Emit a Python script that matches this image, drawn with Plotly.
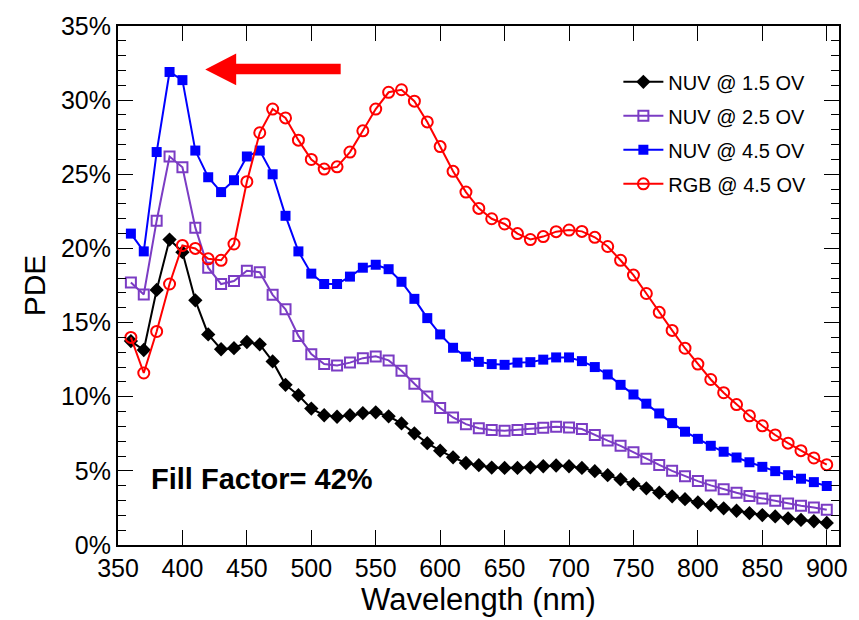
import plotly.graph_objects as go

wavelength = [360, 370, 380, 390, 400, 410, 420, 430, 440, 450,
              460, 470, 480, 490, 500, 510, 520, 530, 540, 550,
              560, 570, 580, 590, 600, 610, 620, 630, 640, 650,
              660, 670, 680, 690, 700, 710, 720, 730, 740, 750,
              760, 770, 780, 790, 800, 810, 820, 830, 840, 850,
              860, 870, 880, 890, 900]

nuv_15 = [13.75, 13.15, 17.2, 20.6, 19.75, 16.5, 14.2, 13.2, 13.27, 13.69,
          13.53, 12.38, 10.8, 10.1, 9.2, 8.75, 8.65, 8.75, 8.9, 8.95,
          8.68, 8.2, 7.53, 6.87, 6.36, 5.91, 5.53, 5.38, 5.22, 5.2,
          5.2, 5.24, 5.31, 5.36, 5.31, 5.2, 4.98, 4.71, 4.42, 4.11,
          3.82, 3.53, 3.28, 3.09, 2.87, 2.69, 2.47, 2.31, 2.15, 2.02,
          1.93, 1.8, 1.69, 1.6, 1.49]

nuv_25 = [17.7, 16.9, 21.87, 26.2, 25.47, 21.4, 18.7, 17.6, 17.8, 18.5,
          18.4, 16.87, 15.9, 14.1, 12.87, 12.2, 12.1, 12.3, 12.6, 12.72,
          12.45, 11.75, 10.87, 10.02, 9.24, 8.6, 8.15, 7.87, 7.76, 7.71,
          7.76, 7.82, 7.91, 7.98, 7.93, 7.82, 7.42, 7.04, 6.69, 6.25,
          5.81, 5.4, 5.0, 4.64, 4.31, 4.02, 3.76, 3.53, 3.31, 3.13,
          2.98, 2.8, 2.64, 2.53, 2.38]

nuv_45 = [21.0, 19.8, 26.5, 31.9, 31.35, 26.6, 24.8, 23.8, 24.6, 26.2,
          26.6, 25.0, 22.2, 19.8, 18.3, 17.6, 17.6, 18.1, 18.7, 18.9,
          18.6, 17.75, 16.6, 15.3, 14.2, 13.3, 12.7, 12.35, 12.2, 12.15,
          12.3, 12.33, 12.5, 12.65, 12.65, 12.4, 12.0, 11.5, 10.8, 10.15,
          9.53, 8.87, 8.22, 7.64, 7.16, 6.69, 6.29, 5.9, 5.58, 5.27,
          4.98, 4.71, 4.47, 4.24, 3.98]

rgb_45 = [14.0, 11.6, 14.4, 17.6, 20.2, 20.0, 19.3, 19.2, 20.3, 24.5,
          27.8, 29.4, 28.8, 27.3, 26.0, 25.35, 25.5, 26.5, 27.93, 29.4,
          30.53, 30.7, 29.93, 28.53, 26.87, 25.2, 23.8, 22.7, 22.0, 21.65,
          21.0, 20.6, 20.8, 21.13, 21.24, 21.15, 20.75, 20.13, 19.2, 18.2,
          16.96, 15.69, 14.47, 13.27, 12.2, 11.16, 10.27, 9.47, 8.71, 8.04,
          7.42, 6.87, 6.36, 5.87, 5.42]

series_names = ["NUV @ 1.5 OV", "NUV @ 2.5 OV", "NUV @ 4.5 OV", "RGB @ 4.5 OV"]
x_ticks = [350, 400, 450, 500, 550, 600, 650, 700, 750, 800, 850, 900]
y_ticks = [0, 5, 10, 15, 20, 25, 30, 35]
y_ticktext = ["0%", "5%", "10%", "15%", "20%", "25%", "30%", "35%"]

FONT = "Liberation Sans, Arial, Helvetica, sans-serif"
PURPLE = "#7B3CC4"

styles = [
    dict(color="#000000", symbol="diamond", size=11, fill=True),
    dict(color=PURPLE, symbol="square-open", size=10, fill=False),
    dict(color="#0000FF", symbol="square", size=10, fill=True),
    dict(color="#FF0000", symbol="circle-open", size=11, fill=False),
]

fig = go.Figure()
for name, ys, st in zip(series_names, [nuv_15, nuv_25, nuv_45, rgb_45], styles):
    fig.add_trace(go.Scatter(
        x=wavelength, y=ys, name=name, mode="lines+markers",
        legendgroup=name,
        line=dict(color=st["color"], width=2),
        marker=dict(symbol=st["symbol"], size=st["size"], color=st["color"],
                    line=dict(color=st["color"], width=2 if not st["fill"] else 0)),
    ))

# red arrow (decoration), in data coordinates
arrow_path = ("M 417.7 32.07 L 441.7 33.15 L 441.7 32.45 L 522.8 32.45 "
              "L 522.8 31.75 L 441.7 31.75 L 441.7 31.0 Z")
fig.add_shape(type="path", path=arrow_path, xref="x", yref="y",
              fillcolor="#FF0000", line=dict(width=0))

fig.add_annotation(x=461.8, y=4.47, xref="x", yref="y", text="<b>Fill Factor= 42%</b>",
                   showarrow=False, font=dict(family=FONT, size=29, color="#000000"))

axis_common = dict(
    showline=True, linecolor="#000000", linewidth=2, mirror="allticks",
    ticks="inside", tickcolor="#000000", tickwidth=1, ticklen=15,
    showgrid=False, zeroline=False,
    tickfont=dict(family=FONT, size=25, color="#000000"),
)

fig.update_xaxes(range=[350, 909.5], tickvals=x_ticks,
                 title=dict(text="Wavelength (nm)", font=dict(family=FONT, size=31, color="#000000"),
                            standoff=1),
                 **axis_common)
fig.update_yaxes(range=[0, 35], tickvals=y_ticks, ticktext=y_ticktext,
                 minor=dict(dtick=1, ticks="inside", ticklen=8, tickcolor="#000000", tickwidth=1),
                 title=dict(text="PDE", font=dict(family=FONT, size=30, color="#000000"),
                            standoff=6),
                 **axis_common)

fig.update_layout(
    width=859, height=620,
    margin=dict(l=118, r=12, t=19, b=75),
    paper_bgcolor="#FFFFFF", plot_bgcolor="#FFFFFF",
    font=dict(family=FONT, color="#000000"),
    showlegend=True,
    legend=dict(x=0.694, y=0.93, xanchor="left", yanchor="top",
                font=dict(family=FONT, size=20, color="#000000"),
                bgcolor="rgba(0,0,0,0)", borderwidth=0,
                tracegroupgap=5, itemwidth=40),
)

fig.write_html("out.html")
